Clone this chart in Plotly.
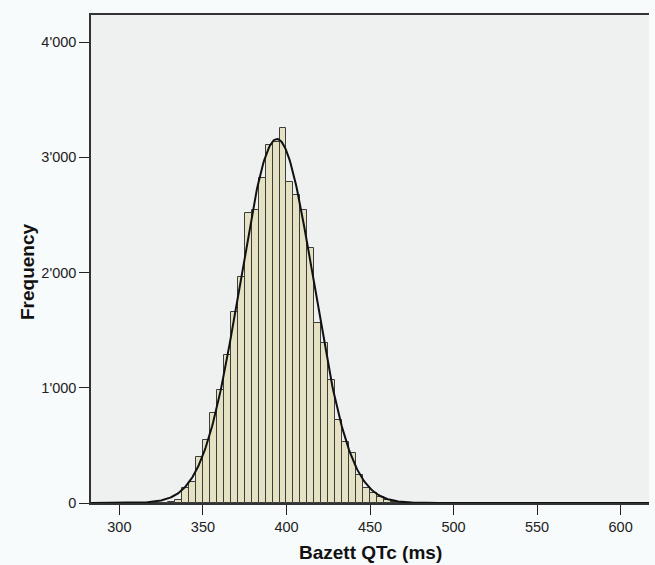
import numpy as np
import plotly.graph_objects as go

# ---- data ----
BIN_WIDTH = 50.0 / 12.0           # ms
FIRST_BIN_LEFT = 350.0 - 8 * BIN_WIDTH
COUNTS = [1, 1, 3, 8, 26, 130, 185, 402,
          547, 778, 980, 1284, 1660, 1964, 2514, 2542, 2817, 3106,
          3135, 3251, 2788, 2672, 2542, 2210, 1559, 1386, 1067, 720,
          532, 431, 243, 127, 90, 55, 26, 12, 6, 3, 2, 1]
CURVE_MEAN = 394.3
CURVE_SD = 22.0

Y_TICKS = [0, 1000, 2000, 3000, 4000]
Y_TICK_TEXT = ["0", "1'000", "2'000", "3'000", "4'000"]
X_TICKS = [300, 350, 400, 450, 500, 550, 600]
X_TICK_TEXT = ["300", "350", "400", "450", "500", "550", "600"]

X_TITLE = "Bazett QTc (ms)"
Y_TITLE = "Frequency"

# ---- derived ----
counts = np.array(COUNTS, dtype=float)
lefts = FIRST_BIN_LEFT + BIN_WIDTH * np.arange(len(counts))
centers = lefts + BIN_WIDTH / 2
n_total = counts.sum()

xc = np.linspace(283, 617, 600)
yc = n_total * BIN_WIDTH / (CURVE_SD * np.sqrt(2 * np.pi)) * np.exp(-0.5 * ((xc - CURVE_MEAN) / CURVE_SD) ** 2)

FONT = "Liberation Sans, Arial, Helvetica, sans-serif"
PAPER = "#f8fbfc"

W, H = 655, 565
ML, MR, MT, MB = 91, 6, 15, 62
PW = W - ML - MR
PH = H - MT - MB

fig = go.Figure()
fig.add_trace(go.Bar(
    x=centers, y=counts, width=BIN_WIDTH,
    marker=dict(color="#e4e2c2", line=dict(color="#3c3c3c", width=1)),
    hoverinfo="x+y", showlegend=False,
))
fig.add_trace(go.Scatter(
    x=xc, y=yc, mode="lines",
    line=dict(color="#111111", width=2),
    hoverinfo="skip", showlegend=False,
))

fig.update_layout(
    width=W, height=H,
    margin=dict(l=ML, r=MR, t=MT, b=MB, autoexpand=False),
    paper_bgcolor=PAPER,
    plot_bgcolor="#eff1f0",
    bargap=0,
    font=dict(family=FONT, color="#222222", size=14),
    annotations=[
        dict(text="<b>" + Y_TITLE + "</b>", xref="paper", yref="paper",
             x=(27 - ML) / PW, y=(H - MB - 272) / PH, xanchor="center", yanchor="middle",
             textangle=-90, showarrow=False, font=dict(family=FONT, size=19, color="#111111")),
        dict(text="<b>" + X_TITLE + "</b>", xref="paper", yref="paper",
             x=0.5, y=(H - MB - 552) / PH, xanchor="center", yanchor="middle",
             showarrow=False, font=dict(family=FONT, size=19, color="#111111")),
    ],
)
fig.update_xaxes(
    range=[283, 617], automargin=False,
    tickvals=X_TICKS, ticktext=X_TICK_TEXT,
    ticks="outside", ticklen=10, tickwidth=1.2, tickcolor="#222222",
    showline=True, linecolor="#333333", linewidth=1.5, mirror=True,
    showgrid=False, zeroline=False,
    tickfont=dict(family=FONT, size=14.5, color="#222222"),
)
fig.update_yaxes(
    range=[0, 4235], automargin=False,
    tickvals=Y_TICKS, ticktext=Y_TICK_TEXT,
    ticks="outside", ticklen=10, tickwidth=1.2, tickcolor="#222222",
    showline=True, linecolor="#333333", linewidth=1.5,
    showgrid=False, zeroline=False,
    tickfont=dict(family=FONT, size=14.5, color="#222222"),
)

fig.write_html(
    "out.html",
    config={"displayModeBar": False},
    post_script="document.body.style.margin='0';document.body.style.overflow='hidden';"
                "document.body.style.background='" + PAPER + "';",
)
